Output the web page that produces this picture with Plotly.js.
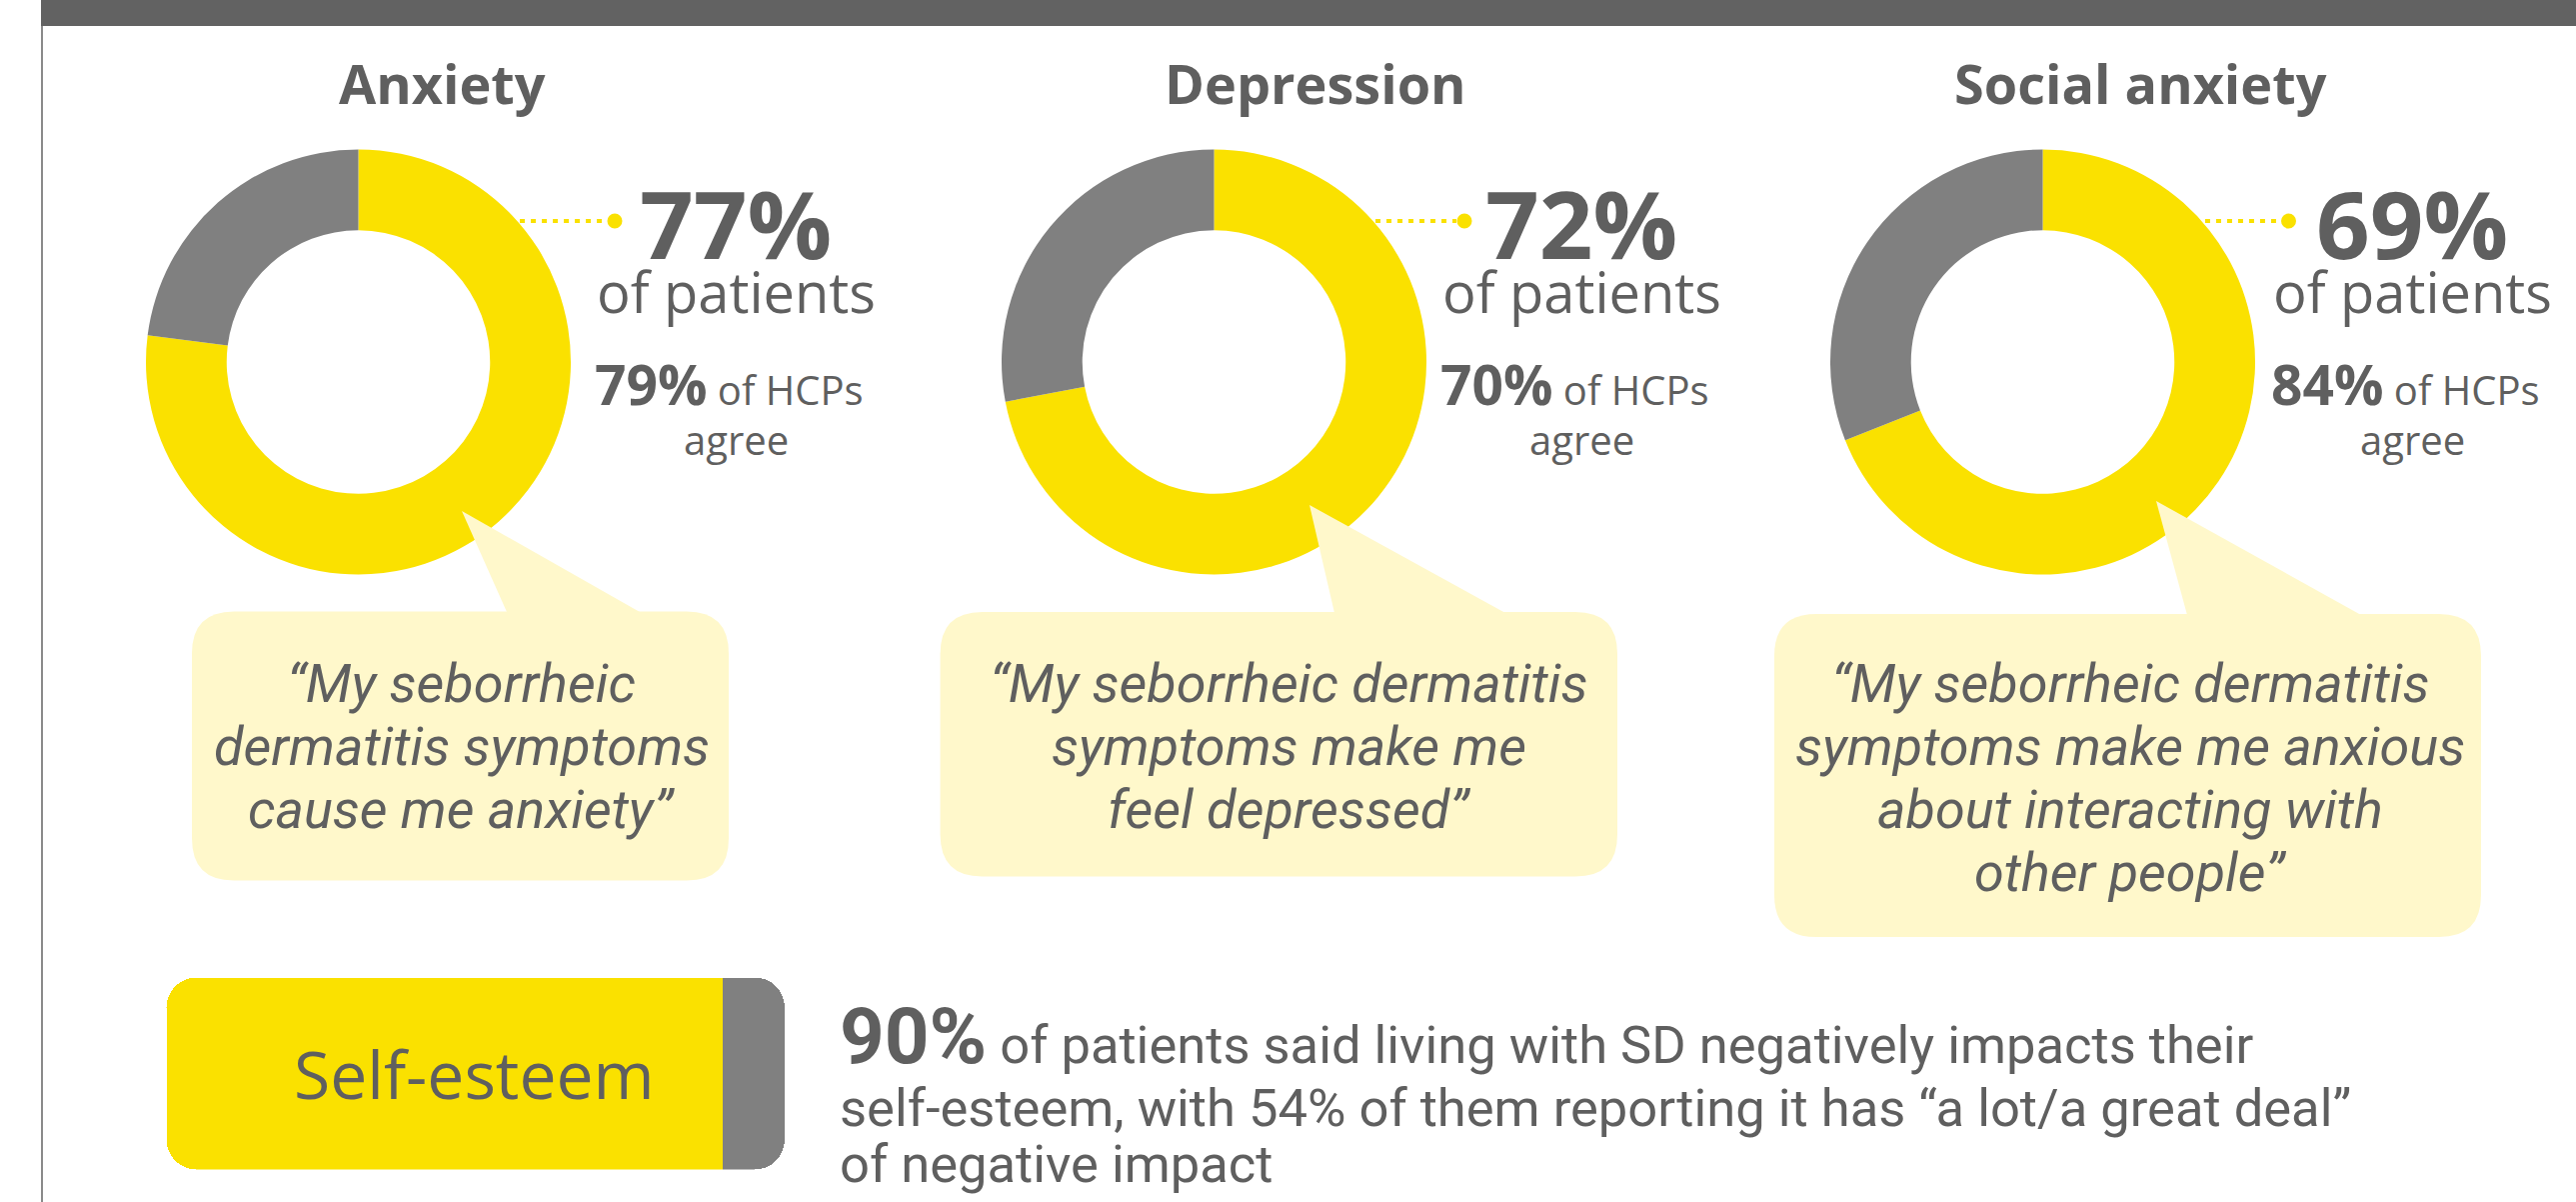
<!DOCTYPE html>
<html>
<head>
<meta charset="utf-8">
<script src="https://cdn.plot.ly/plotly-3.0.1.min.js"></script>
<style>html,body{margin:0;padding:0;background:#fff;}#chart{width:2577px;height:1202px;}</style>
</head>
<body>
<div id="chart"></div>
<script>
// ---------- DATA ----------
const conditions = ['Anxiety', 'Depression', 'Social anxiety'];
const patientPct = [77, 72, 69];
const hcpPct = [79, 70, 84];
const sliceLabels = ['Yes', 'No'];
const quoteLines = [
  ['“My seborrheic', 'dermatitis symptoms', 'cause me anxiety”'],
  ['“My seborrheic dermatitis', 'symptoms make me', 'feel depressed”'],
  ['“My seborrheic dermatitis', 'symptoms make me anxious', 'about interacting with', 'other people”']
];
const selfEsteemLabel = 'Self-esteem';
const selfEsteemValues = [90, 10];   // impacted / not impacted
const selfEsteemText = [
  'of patients said living with SD negatively impacts their',
  'self-esteem, with 54% of them reporting it has “a lot/a great deal”',
  'of negative impact'
];

// ---------- LAYOUT HELPERS ----------
const W = 2577, H = 1202;
const px = x => x / W;
const py = y => 1 - y / H;
const YEL = '#FAE100', GRY = '#808080', BUB = '#FFF8CB', TXT = '#5f5f5f';
const FONT = 'Open Sans, Noto Sans, sans-serif';
const FONT2 = 'Roboto, Open Sans, sans-serif';
// (ascent - descent)/2 per font, to place a baseline
const MID = { open: 0.388, roboto: 0.342 };

// panel geometry (pixels)
const donutCx = [358.5, 1214.5, 2043.5];
const donutCy = 362, donutR = 212.5;
const titleCx = [442, 1316, 2141];
const statCx = [736, 1582, 2413];
const lineStartX = [520, 1376, 2206];
const dotX = [615, 1465, 2289.5];
const bubbles = [[192, 611.5, 729, 880.6], [940.6, 612, 1618, 876.6], [1775, 614, 2482, 937]];
const tris = [[[462, 511], [507, 612], [640, 612]], [[1310, 505], [1335, 613], [1506, 613]], [[2157, 501], [2188, 615], [2362, 615]]];
const quoteCx = [462, 1289, 2131];

// single-line annotation centred on its text box, placed from a baseline
function ann(text, x, baseline, size, opt) {
  opt = opt || {};
  const f = opt.fmax || size;
  const roboto = !!opt.roboto;
  return {
    xref: 'paper', yref: 'paper', x: px(x), y: py(baseline - (roboto ? MID.roboto : MID.open) * f),
    xanchor: opt.xanchor || 'center', yanchor: 'middle', showarrow: false, text: text,
    font: { family: roboto ? FONT2 : FONT, size: size, color: TXT }, borderpad: 0, borderwidth: 0
  };
}
const sp = (s, t) => '<span style="font-size:' + s + 'px">' + t + '</span>';

function rrPath(x0, y0, x1, y1, r) {
  const P = (x, y) => px(x) + ',' + py(y);
  return 'M' + P(x0 + r, y0) + ' L' + P(x1 - r, y0) + ' Q' + P(x1, y0) + ' ' + P(x1, y0 + r) +
    ' L' + P(x1, y1 - r) + ' Q' + P(x1, y1) + ' ' + P(x1 - r, y1) +
    ' L' + P(x0 + r, y1) + ' Q' + P(x0, y1) + ' ' + P(x0, y1 - r) +
    ' L' + P(x0, y0 + r) + ' Q' + P(x0, y0) + ' ' + P(x0 + r, y0) + ' Z';
}

// ---------- TRACES ----------
const traces = [];
conditions.forEach((c, i) => {
  traces.push({
    type: 'pie', labels: sliceLabels, values: [patientPct[i], 100 - patientPct[i]],
    sort: false, direction: 'clockwise', rotation: 0, hole: 0.62,
    marker: { colors: [YEL, GRY], line: { width: 0 } },
    textinfo: 'none', hoverinfo: 'skip', showlegend: false,
    domain: { x: [px(donutCx[i] - donutR), px(donutCx[i] + donutR)], y: [py(donutCy + donutR), py(donutCy - donutR)] }
  });
});
// self-esteem bar: relative stacking, impacted share left of 0, rest right of 0,
// so both outer ends are rounded and the junction is square
traces.push({
  type: 'bar', orientation: 'h', y: [0], x: [-selfEsteemValues[0]], width: [1], name: 'impacted',
  marker: { color: YEL, line: { width: 0 } }, xaxis: 'x', yaxis: 'y', hoverinfo: 'skip', showlegend: false
});
traces.push({
  type: 'bar', orientation: 'h', y: [0], x: [selfEsteemValues[1]], width: [1], name: 'not impacted',
  marker: { color: GRY, line: { width: 0 } }, xaxis: 'x', yaxis: 'y', hoverinfo: 'skip', showlegend: false
});

// ---------- SHAPES ----------
const shapes = [];
shapes.push({ type: 'rect', xref: 'paper', yref: 'paper', x0: px(41), x1: 1, y0: py(26), y1: 1, fillcolor: '#626262', line: { width: 0 }, layer: 'below' });
shapes.push({ type: 'line', xref: 'paper', yref: 'paper', x0: px(42), x1: px(42), y0: py(26), y1: 0, line: { color: '#8a8a8a', width: 2 } });
conditions.forEach((c, i) => {
  const b = bubbles[i];
  shapes.push({ type: 'path', xref: 'paper', yref: 'paper', path: rrPath(b[0], b[1], b[2], b[3], 42), fillcolor: BUB, line: { width: 0 }, layer: 'above' });
  const t = tris[i];
  shapes.push({ type: 'path', xref: 'paper', yref: 'paper', path: 'M' + px(t[0][0]) + ',' + py(t[0][1]) + ' L' + px(t[1][0]) + ',' + py(t[1][1]) + ' L' + px(t[2][0]) + ',' + py(t[2][1]) + ' Z', fillcolor: BUB, line: { width: 0 }, layer: 'above' });
  shapes.push({ type: 'line', xref: 'paper', yref: 'paper', x0: px(lineStartX[i]), x1: px(dotX[i] - 8), y0: py(221), y1: py(221), line: { color: YEL, width: 4, dash: '5px,6px' }, layer: 'above' });
  shapes.push({ type: 'circle', xref: 'paper', yref: 'paper', x0: px(dotX[i] - 7.5), x1: px(dotX[i] + 7.5), y0: py(221 + 7.5), y1: py(221 - 7.5), fillcolor: YEL, line: { width: 0 }, layer: 'above' });
});

// ---------- ANNOTATIONS ----------
const annotations = [];
conditions.forEach((c, i) => {
  annotations.push(ann('<b>' + c + '</b>', titleCx[i], 104, 54));
  annotations.push(ann('<b>' + patientPct[i] + '%</b>', statCx[i], 259, 94));
  annotations.push(ann('of patients', statCx[i], 313, 56));
  annotations.push(ann(sp(55, '<b>' + hcpPct[i] + '%</b>') + ' of HCPs', statCx[i] - 6.5, 405, 40, { fmax: 55 }));
  annotations.push(ann('agree', statCx[i], 455, 40));
  quoteLines[i].forEach((ln, k) => {
    annotations.push(ann('<i>' + ln + '</i>', quoteCx[i], 702 + 63 * k, 54, { roboto: true }));
  });
});
annotations.push(ann(selfEsteemLabel, 474, 1099, 66));
annotations.push(ann(sp(78, '<b>' + selfEsteemValues[0] + '%</b>') + ' ' + selfEsteemText[0], 840, 1063, 52.5, { fmax: 78, xanchor: 'left', roboto: true }));
annotations.push(ann(selfEsteemText[1], 840, 1126, 52.5, { xanchor: 'left', roboto: true }));
annotations.push(ann(selfEsteemText[2], 840, 1182, 52.5, { xanchor: 'left', roboto: true }));

const layout = {
  width: W, height: H, margin: { l: 0, r: 0, t: 0, b: 0, pad: 0 },
  paper_bgcolor: '#ffffff', plot_bgcolor: 'rgba(0,0,0,0)',
  showlegend: false, barmode: 'relative', bargap: 0, barcornerradius: 30,
  xaxis: { domain: [px(166.5), px(785)], range: [-selfEsteemValues[0], selfEsteemValues[1]], visible: false, fixedrange: true },
  yaxis: { domain: [py(1169.5), py(977.5)], range: [-0.5, 0.5], visible: false, fixedrange: true },
  shapes: shapes, annotations: annotations
};

Plotly.newPlot('chart', traces, layout, { displayModeBar: false, staticPlot: true });
</script>
</body>
</html>
